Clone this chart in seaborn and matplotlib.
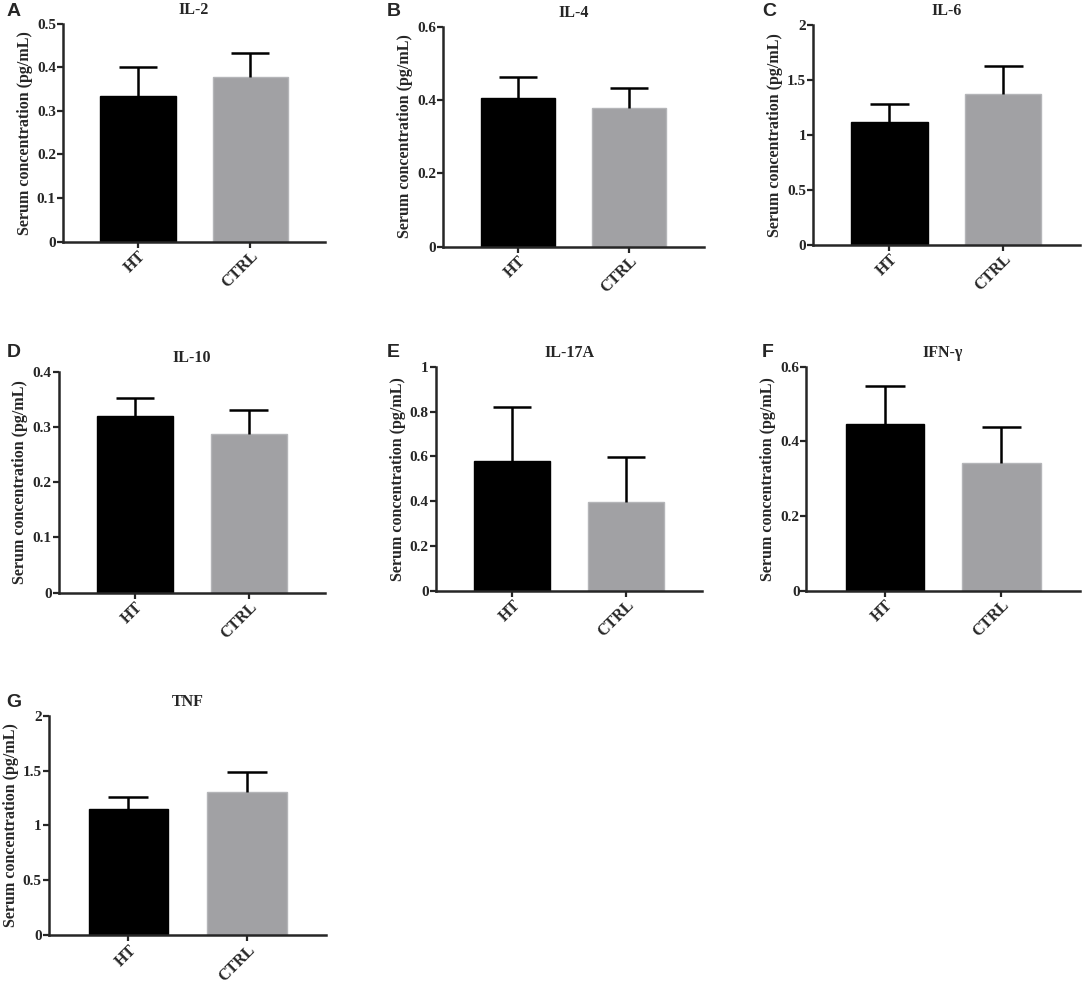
import matplotlib
matplotlib.use("Agg")
import numpy as np
import pandas as pd
import matplotlib.pyplot as plt
import seaborn as sns

# ---- data (mean, upper error) ----
groups = ["HT", "CTRL"]
cytokines = ["IL-2", "IL-4", "IL-6", "IL-10", "IL-17A", "IFN-γ", "TNF"]
letters = ["A", "B", "C", "D", "E", "F", "G"]
means_ht = [0.335, 0.406, 1.118, 0.319, 0.580, 0.446, 1.149]
means_ctrl = [0.378, 0.377, 1.373, 0.288, 0.396, 0.343, 1.308]
sem_ht = [0.065, 0.056, 0.162, 0.033, 0.241, 0.103, 0.108]
sem_ctrl = [0.054, 0.055, 0.251, 0.043, 0.201, 0.095, 0.178]
ymax = [0.5, 0.6, 2.0, 0.4, 1.0, 0.6, 2.0]
yticks = [
    [0, 0.1, 0.2, 0.3, 0.4, 0.5],
    [0, 0.2, 0.4, 0.6],
    [0, 0.5, 1, 1.5, 2],
    [0, 0.1, 0.2, 0.3, 0.4],
    [0, 0.2, 0.4, 0.6, 0.8, 1],
    [0, 0.2, 0.4, 0.6],
    [0, 0.5, 1, 1.5, 2],
]
ytick_labels = [
    ["0", "0.1", "0.2", "0.3", "0.4", "0.5"],
    ["0", "0.2", "0.4", "0.6"],
    ["0", "0.5", "1", "1.5", "2"],
    ["0", "0.1", "0.2", "0.3", "0.4"],
    ["0", "0.2", "0.4", "0.6", "0.8", "1"],
    ["0", "0.2", "0.4", "0.6"],
    ["0", "0.5", "1", "1.5", "2"],
]

# axes boxes [left, bottom, width, height] in figure fractions
boxes = [
    [0.058, 0.755, 0.242, 0.221],
    [0.409, 0.750, 0.240, 0.223],
    [0.750, 0.752, 0.246, 0.223],
    [0.054, 0.399, 0.246, 0.224],
    [0.402, 0.401, 0.246, 0.227],
    [0.744, 0.401, 0.252, 0.227],
    [0.045, 0.052, 0.256, 0.222],
]
# panel letter positions (figure fractions)
letter_pos = [
    (0.006, 0.988), (0.357, 0.988), (0.703, 0.988),
    (0.006, 0.643), (0.357, 0.643), (0.703, 0.643),
    (0.006, 0.288),
]

sns.set_style("ticks")
SERIF = ["Liberation Serif", "DejaVu Serif"]
plt.rcParams["font.family"] = SERIF
plt.rcParams["font.weight"] = "bold"

BLACK = "#000000"
GREY = "#a0a1a5"
CAP = 0.17

fig = plt.figure(figsize=(10.84, 9.86), dpi=100)

for i in range(7):
    ax = fig.add_axes(boxes[i])
    m = [means_ht[i], means_ctrl[i]]
    e = [sem_ht[i], sem_ctrl[i]]
    df = pd.DataFrame({"group": groups, "value": m})
    sns.barplot(data=df, x="group", y="value", hue="group",
                palette=[BLACK, GREY], width=0.67, legend=False,
                edgecolor="none", ax=ax, zorder=2)
    for p, c in zip(ax.patches, ["#000000", "#b4b5b8"]):
        p.set_edgecolor(c)
        p.set_linewidth(1.0)
    tops = [a + b for a, b in zip(m, e)]
    ax.vlines([0, 1], m, tops, color="black", linewidth=1.8, zorder=3)
    ax.hlines(tops, [x - CAP for x in (0, 1)], [x + CAP for x in (0, 1)],
              color="black", linewidth=1.8, zorder=3)
    ax.set_xlim(-0.67, 1.67)
    ax.set_ylim(0, ymax[i])
    ax.set_yticks(yticks[i])
    ax.set_yticklabels(ytick_labels[i], fontsize=11, fontweight="bold")
    ax.set_xticks([0, 1])
    ax.set_xticklabels(groups, rotation=45, ha="right", rotation_mode="anchor",
                       fontsize=11.5, fontweight="bold")
    ax.set_xlabel("")
    ax.set_ylabel("Serum concentration (pg/mL)", fontsize=11.5,
                  fontweight="bold", labelpad=3)
    ax.set_title(cytokines[i], fontsize=11.5, fontweight="bold", pad=7)
    for s in ["top", "right"]:
        ax.spines[s].set_visible(False)
    for s in ["left", "bottom"]:
        ax.spines[s].set_linewidth(1.8)
    ax.tick_params(axis="both", width=1.6, length=4, pad=1)
    fig.text(letter_pos[i][0], letter_pos[i][1], letters[i], fontsize=14,
             fontweight="bold", family=["Liberation Sans", "DejaVu Sans"],
             va="center", ha="left")

fig.savefig("out.png", dpi=100)
